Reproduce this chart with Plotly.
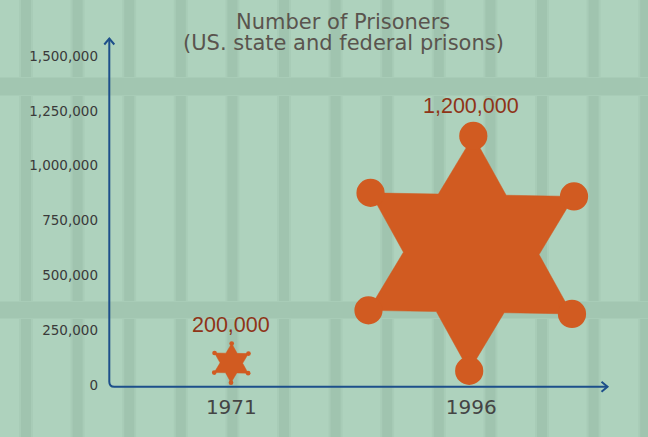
import math
import plotly.graph_objects as go

# ---------------- data ----------------
years = ["1971", "1996"]
prisoners = [200000, 1200000]
y_ticks = [0, 250000, 500000, 750000, 1000000, 1250000, 1500000]
title_line1 = "Number of Prisoners"
title_line2 = "(US. state and federal prisons)"

# ---------------- layout constants ----------------
W, H = 648, 437
ML, MR, MT, MB = 109, 40, 38, 52
PW, PH = W - ML - MR, H - MT - MB
X_RANGE = [-0.51, 1.57]
Y_RANGE = [0, 1582000]
KX = PW / (X_RANGE[1] - X_RANGE[0])      # px per x unit
KY = PH / (Y_RANGE[1] - Y_RANGE[0])      # px per y unit

BG = "#aed2bd"
BAR_DARK = "#a0c4af"
BAR_SOFT = "#a8ccb7"
AXIS_BLUE = "#1d4f8a"
STAR = "#d15b21"
LABEL_RED = "#8f3418"


def px_x(px):
    return (px - ML) / PW


def px_y(py):
    return (H - MB - py) / PH


fig = go.Figure()
shapes = []

# ---------------- sheriff stars (built from the data values) ----------------
TIP_RATIO = 0.12
ROT = math.radians(-1.0)
for i, v in enumerate(prisoners):
    hpx = v * KY
    R = hpx / (2 * (1 + TIP_RATIO))
    rin = R / math.sqrt(3)
    rc = TIP_RATIO * R
    cy = v / 2.0
    xs, ys = [], []
    for k in range(13):
        a = math.radians(90 - k * 30) + ROT
        rr = R if k % 2 == 0 else rin
        xs.append(i + rr * math.cos(a) / KX)
        ys.append(cy + rr * math.sin(a) / KY)
    fig.add_trace(go.Scatter(
        x=xs, y=ys, mode="lines", fill="toself",
        fillcolor=STAR, line=dict(color=STAR, width=0.5),
        hoverinfo="skip", showlegend=False,
    ))
    for k in range(6):
        a = math.radians(90 - k * 60) + ROT
        ox, oy = R * math.cos(a), R * math.sin(a)
        shapes.append(dict(type="circle", xref="x", yref="y", layer="above",
                           x0=i + (ox - rc) / KX, x1=i + (ox + rc) / KX,
                           y0=cy + (oy - rc) / KY, y1=cy + (oy + rc) / KY,
                           fillcolor=STAR, line=dict(width=0)))

# value labels
for i, v in enumerate(prisoners):
    fig.add_annotation(
        x=i, y=v, text=f"{v:,}", showarrow=False,
        xanchor="center", yanchor="bottom", yshift=2,
        font=dict(family="Liberation Sans, Arial, sans-serif", size=21.5, color=LABEL_RED),
    )

# titles
TITLE_X = px_x(343)
fig.add_annotation(xref="paper", yref="paper", x=TITLE_X, y=px_y(22), text=title_line1,
                   showarrow=False, xanchor="center", yanchor="middle",
                   font=dict(family="DejaVu Sans, Verdana, sans-serif", size=21, color="#5a544e"))
fig.add_annotation(xref="paper", yref="paper", x=TITLE_X, y=px_y(43), text=title_line2,
                   showarrow=False, xanchor="center", yanchor="middle",
                   font=dict(family="DejaVu Sans, Verdana, sans-serif", size=21, color="#5a544e"))

# ---------------- background: prison bars ----------------
bg_shapes = []
bar_x0, bar_step = 26, 51.6
k = 0
while bar_x0 + k * bar_step < W + 10:
    c = bar_x0 + k * bar_step
    bg_shapes.append(dict(type="rect", xref="paper", yref="paper", layer="below",
                          x0=px_x(c - 7), x1=px_x(c + 7), y0=px_y(H + 2), y1=px_y(-2),
                          fillcolor=BAR_SOFT, line=dict(width=0)))
    bg_shapes.append(dict(type="rect", xref="paper", yref="paper", layer="below",
                          x0=px_x(c - 5), x1=px_x(c + 5), y0=px_y(H + 2), y1=px_y(-2),
                          fillcolor=BAR_DARK, line=dict(width=0)))
    k += 1
for (t0, t1) in [(78, 95), (302, 318)]:
    bg_shapes.append(dict(type="rect", xref="paper", yref="paper", layer="below",
                          x0=px_x(-2), x1=px_x(W + 2), y0=px_y(t1 + 1), y1=px_y(t0 - 1),
                          fillcolor=BAR_SOFT, line=dict(width=0)))
    bg_shapes.append(dict(type="rect", xref="paper", yref="paper", layer="below",
                          x0=px_x(-2), x1=px_x(W + 2), y0=px_y(t1), y1=px_y(t0),
                          fillcolor="#a2c6b1", line=dict(width=0)))

# ---------------- axes with arrows ----------------
AX_X, AX_Y = 109.3, 386.7
TOP_Y, RIGHT_X = 38.5, 607.5
CR = 5
path = (f"M {px_x(AX_X)},{px_y(TOP_Y)} L {px_x(AX_X)},{px_y(AX_Y - CR)} "
        f"Q {px_x(AX_X)},{px_y(AX_Y)} {px_x(AX_X + CR)},{px_y(AX_Y)} "
        f"L {px_x(RIGHT_X)},{px_y(AX_Y)}")
axis_shapes = [dict(type="path", xref="paper", yref="paper", path=path,
                    line=dict(color=AXIS_BLUE, width=2))]
up = (f"M {px_x(AX_X - 5)},{px_y(TOP_Y + 6)} L {px_x(AX_X)},{px_y(TOP_Y)} "
      f"L {px_x(AX_X + 5)},{px_y(TOP_Y + 6)}")
axis_shapes.append(dict(type="path", xref="paper", yref="paper", path=up,
                        line=dict(color=AXIS_BLUE, width=2)))
rt = (f"M {px_x(RIGHT_X - 6)},{px_y(AX_Y - 5)} L {px_x(RIGHT_X)},{px_y(AX_Y)} "
      f"L {px_x(RIGHT_X - 6)},{px_y(AX_Y + 5)}")
axis_shapes.append(dict(type="path", xref="paper", yref="paper", path=rt,
                        line=dict(color=AXIS_BLUE, width=2)))

fig.update_layout(
    width=W, height=H,
    margin=dict(l=ML, r=MR, t=MT, b=MB, pad=0),
    paper_bgcolor=BG, plot_bgcolor="rgba(0,0,0,0)",
    shapes=bg_shapes + axis_shapes + shapes, showlegend=False,
    xaxis=dict(range=X_RANGE, tickmode="array", tickvals=list(range(len(years))),
               ticktext=years, showgrid=False, zeroline=False, showline=False,
               ticks="", ticklabelstandoff=8, fixedrange=True,
               tickfont=dict(family="DejaVu Sans, Verdana, sans-serif", size=20, color="#444444")),
    yaxis=dict(range=Y_RANGE, tickmode="array", tickvals=y_ticks,
               ticktext=[f"{t:,}" for t in y_ticks], showgrid=False, zeroline=False,
               showline=False, ticks="", ticklabelstandoff=10, fixedrange=True,
               tickfont=dict(family="DejaVu Sans, Verdana, sans-serif", size=13.5, color="#3a3a3a")),
)

fig.write_html("out.html", config={"displayModeBar": False},
               post_script="document.body.style.margin='0';document.body.style.overflow='hidden';")
